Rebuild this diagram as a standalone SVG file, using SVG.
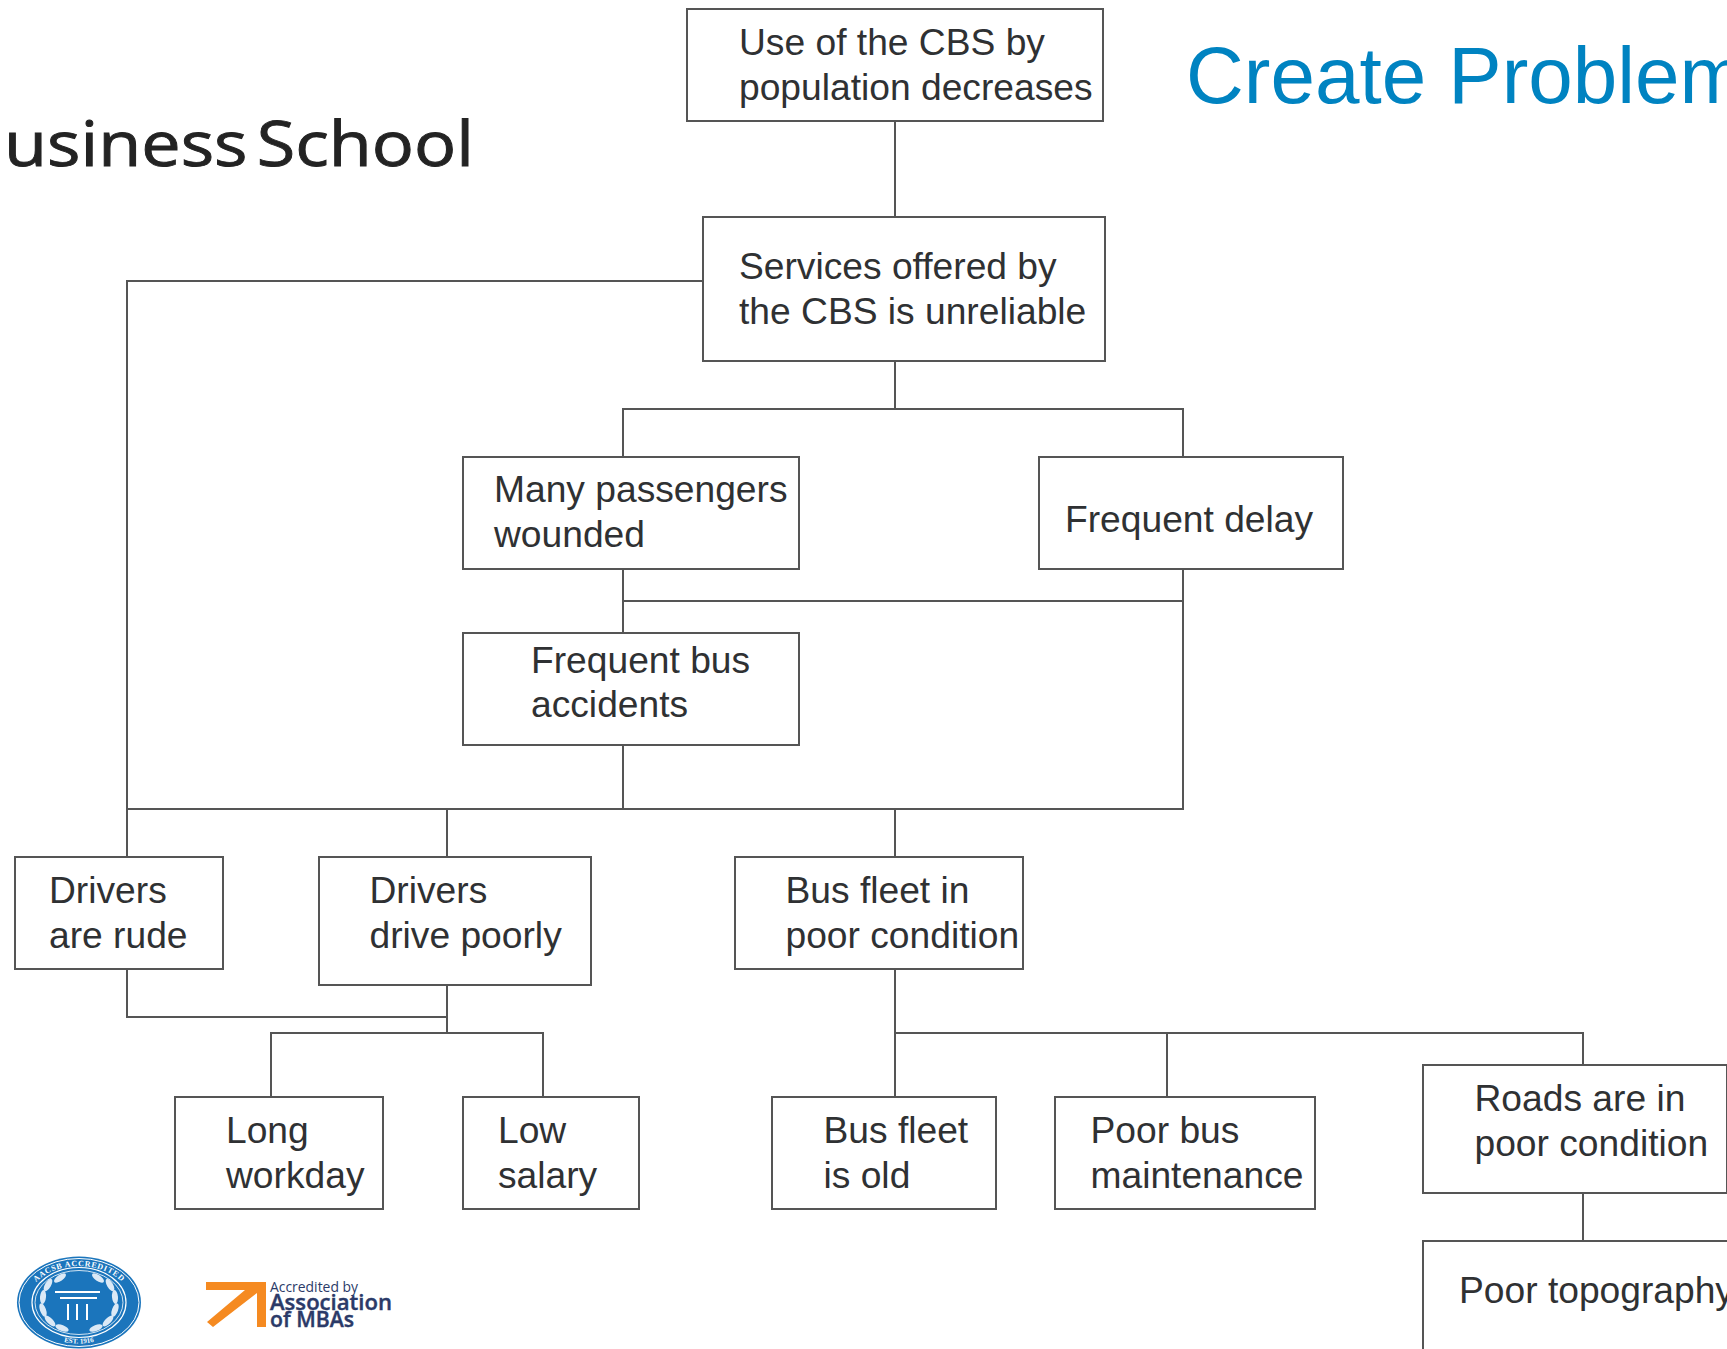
<svg xmlns="http://www.w3.org/2000/svg" width="1727" height="1349" viewBox="0 0 1727 1349">
<style>
.box{fill:#fff;stroke:#555;stroke-width:2}
.c{fill:none;stroke:#555;stroke-width:2}
.t{font-family:"Liberation Sans",Arial,sans-serif;font-size:37.2px;fill:#2f3133}
.leaf{fill:#dbe9f6}
.ring{fill:none;stroke:#fff}
.mba{font-family:"Open Sans","Noto Sans",sans-serif;fill:#2b3a68}
.seal{font-family:"Liberation Serif",serif;font-weight:bold;fill:#fff}
</style>
<defs>
<path id="sealTop" d="M27,1303 A52 37 0 0 1 131,1303"/>
<path id="sealBot" d="M53,1339 Q79,1348 105,1339"/>
</defs>
<rect width="1727" height="1349" fill="#fff"/>
<g id="connectors" class="c">
<path d="M895 121V217"/>
<path d="M895 361V409M623 457V409H1183V457"/>
<path d="M703 281H127V857"/>
<path d="M127 809H1183V569"/>
<path d="M623 569V633M623 601H1183"/>
<path d="M623 745V809"/>
<path d="M447 809V857M895 809V857"/>
<path d="M127 969V1017H447"/>
<path d="M447 985V1033M271 1097V1033H543V1097"/>
<path d="M895 969V1097M895 1033H1583V1065M1167 1033V1097"/>
<path d="M1583 1193V1241"/>
</g>
<g id="title"><text x="1186" y="103" font-family="Liberation Sans,Arial,sans-serif" font-size="80" fill="#0083c1">Create Problem</text></g>
<g id="school"><text x="4" y="166" font-family="Open Sans,Noto Sans,sans-serif" font-size="62" fill="#232323" stroke="#232323" stroke-width="0.9" word-spacing="-8" textLength="470" lengthAdjust="spacingAndGlyphs">usiness School</text></g>
<g id="n-use"><rect class="box" x="687" y="9" width="416" height="112"/><text class="t" x="739" y="55">Use of the CBS by</text><text class="t" x="739" y="100">population decreases</text></g>
<g id="n-services"><rect class="box" x="703" y="217" width="402" height="144"/><text class="t" x="739" y="279">Services offered by</text><text class="t" x="739" y="324">the CBS is unreliable</text></g>
<g id="n-wounded"><rect class="box" x="463" y="457" width="336" height="112"/><text class="t" x="494" y="502">Many passengers</text><text class="t" x="494" y="547">wounded</text></g>
<g id="n-delay"><rect class="box" x="1039" y="457" width="304" height="112"/><text class="t" x="1065" y="532">Frequent delay</text></g>
<g id="n-accidents"><rect class="box" x="463" y="633" width="336" height="112"/><text class="t" x="531" y="673">Frequent bus</text><text class="t" x="531" y="717">accidents</text></g>
<g id="n-rude"><rect class="box" x="15" y="857" width="208" height="112"/><text class="t" x="49" y="903">Drivers</text><text class="t" x="49" y="948">are rude</text></g>
<g id="n-poorly"><rect class="box" x="319" y="857" width="272" height="128"/><text class="t" x="369.500" y="903">Drivers</text><text class="t" x="369.500" y="948">drive poorly</text></g>
<g id="n-fleet"><rect class="box" x="735" y="857" width="288" height="112"/><text class="t" x="785.500" y="903">Bus fleet in</text><text class="t" x="785.500" y="948">poor condition</text></g>
<g id="n-workday"><rect class="box" x="175" y="1097" width="208" height="112"/><text class="t" x="226" y="1143">Long</text><text class="t" x="226" y="1188">workday</text></g>
<g id="n-salary"><rect class="box" x="463" y="1097" width="176" height="112"/><text class="t" x="498" y="1143">Low</text><text class="t" x="498" y="1188">salary</text></g>
<g id="n-old"><rect class="box" x="772" y="1097" width="224" height="112"/><text class="t" x="823.500" y="1143">Bus fleet</text><text class="t" x="823.500" y="1188">is old</text></g>
<g id="n-maint"><rect class="box" x="1055" y="1097" width="260" height="112"/><text class="t" x="1090.500" y="1143">Poor bus</text><text class="t" x="1090.500" y="1188">maintenance</text></g>
<g id="n-roads"><rect class="box" x="1423" y="1065" width="304" height="128"/><text class="t" x="1474.500" y="1111">Roads are in</text><text class="t" x="1474.500" y="1156">poor condition</text></g>
<g id="n-topo"><rect class="box" x="1423" y="1241" width="330" height="140"/><text class="t" x="1459" y="1303">Poor topography</text></g>
<g id="logo-aacsb">
<ellipse cx="79" cy="1302.5" rx="62" ry="46" fill="#1b75bc"/>
<ellipse class="ring" cx="79" cy="1302.5" rx="60" ry="44" stroke-width="1"/>
<ellipse class="ring" cx="79" cy="1302.5" rx="47" ry="35" stroke-width="1.2"/>
<ellipse class="ring" cx="79" cy="1302.5" rx="44" ry="32" stroke-width="0.8"/>
<g class="leaf">
<ellipse cx="96" cy="1328" rx="7" ry="3" transform="rotate(-20 96 1328)"/>
<ellipse cx="108" cy="1321" rx="7" ry="3" transform="rotate(-45 108 1321)"/>
<ellipse cx="115" cy="1310" rx="7" ry="3" transform="rotate(-70 115 1310)"/>
<ellipse cx="115" cy="1297" rx="7" ry="3" transform="rotate(-95 115 1297)"/>
<ellipse cx="110" cy="1285" rx="7" ry="3" transform="rotate(-120 110 1285)"/>
<ellipse cx="98" cy="1278" rx="7" ry="3" transform="rotate(-145 98 1278)"/>
<ellipse cx="62" cy="1328" rx="7" ry="3" transform="rotate(20 62 1328)"/>
<ellipse cx="50" cy="1321" rx="7" ry="3" transform="rotate(45 50 1321)"/>
<ellipse cx="43" cy="1310" rx="7" ry="3" transform="rotate(70 43 1310)"/>
<ellipse cx="43" cy="1297" rx="7" ry="3" transform="rotate(95 43 1297)"/>
<ellipse cx="48" cy="1285" rx="7" ry="3" transform="rotate(120 48 1285)"/>
<ellipse cx="60" cy="1278" rx="7" ry="3" transform="rotate(145 60 1278)"/>
</g>
<path d="M55 1292H100M60 1298H97M68 1304V1320M77 1304V1320M87 1304V1320" fill="none" stroke="#fff" stroke-width="2"/>
<text class="seal" font-size="8" letter-spacing="0.7"><textPath href="#sealTop" startOffset="50%" text-anchor="middle">AACSB ACCREDITED</textPath></text>
<text class="seal" font-size="7"><textPath href="#sealBot" startOffset="50%" text-anchor="middle">EST. 1916</textPath></text>
</g>
<g id="logo-mba">
<polygon points="206,1282 266,1282 266,1327 257,1327 257,1293 213,1327 207,1322 245,1290 206,1290" fill="#f58a21"/>
<text class="mba" x="270" y="1292" font-size="15" textLength="88" lengthAdjust="spacingAndGlyphs">Accredited by</text>
<text class="mba" x="270" y="1310" font-size="22" font-weight="600" stroke="#2b3a68" stroke-width="0.4" textLength="122" lengthAdjust="spacingAndGlyphs">Association</text>
<text class="mba" x="270" y="1327" font-size="22" font-weight="600" stroke="#2b3a68" stroke-width="0.4" textLength="84" lengthAdjust="spacingAndGlyphs">of MBAs</text>
</g>
</svg>
